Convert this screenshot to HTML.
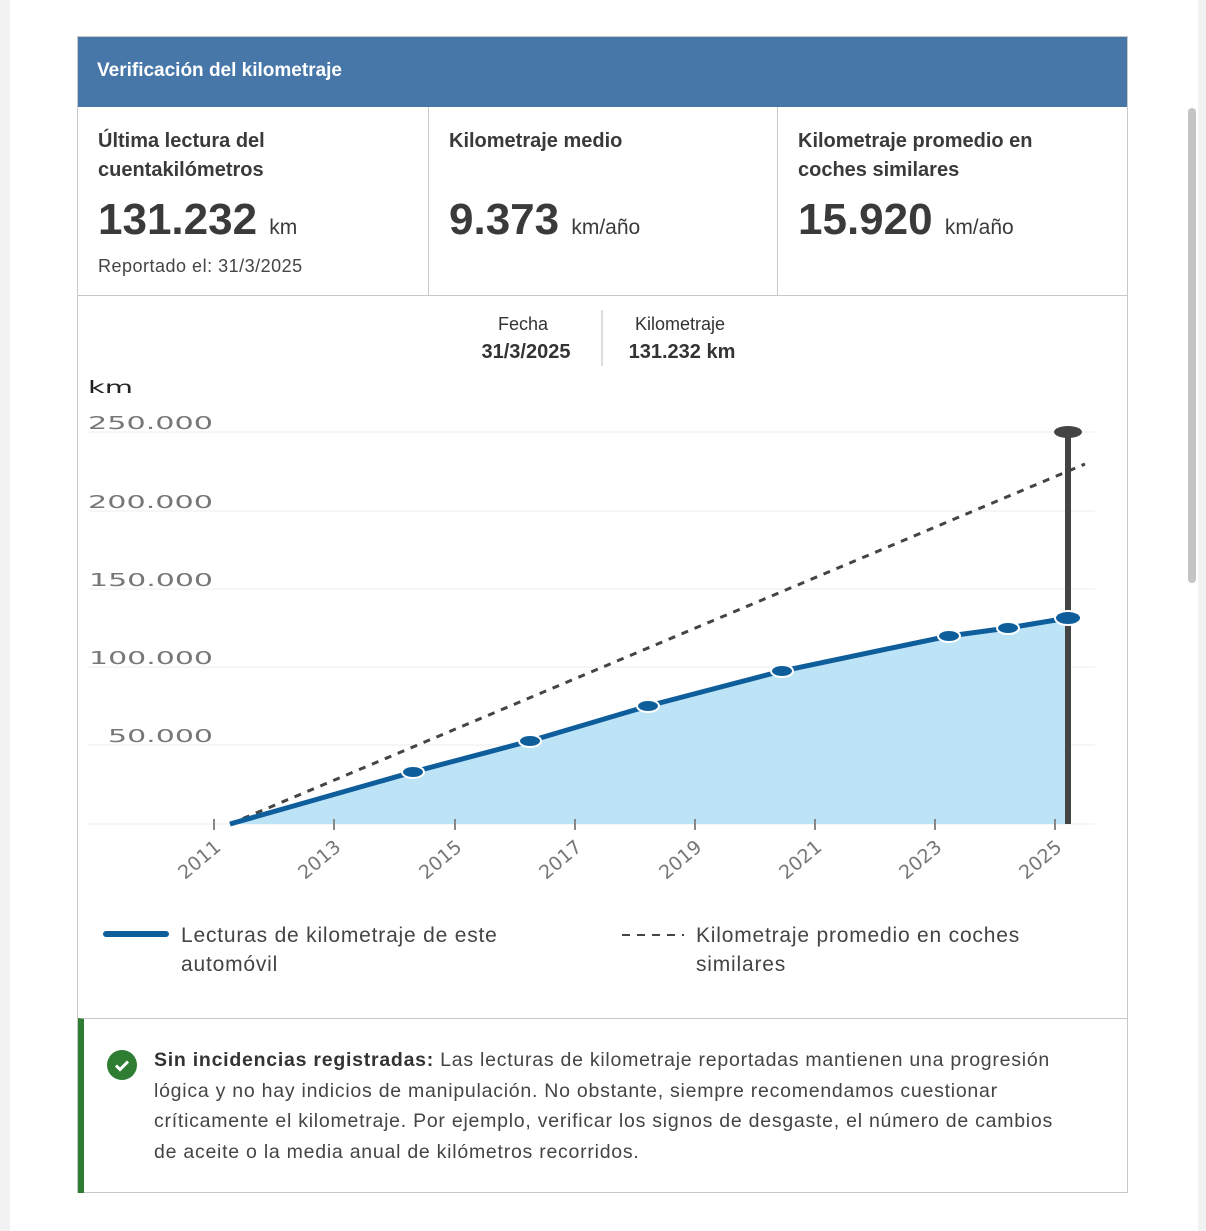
<!DOCTYPE html>
<html><head><meta charset="utf-8"><style>
*{margin:0;padding:0;box-sizing:border-box}
body{width:1206px;height:1231px;background:#f2f2f2;font-family:"Liberation Sans",sans-serif;position:relative;overflow:hidden;color:#333}
.page{position:absolute;left:10px;top:0;width:1188px;height:1231px;background:#fff}
.card{position:absolute;left:77px;top:36px;width:1051px;height:1157px;border:1px solid #c8c8c8;background:#fff}
.hdr{position:absolute;left:0;top:0;width:100%;height:70px;background:#4677a8;color:#fff;font-weight:bold;font-size:19px;padding:23px 0 0 19px}
.stat{position:absolute;top:70px;height:189px;border-bottom:1px solid #c8c8c8;padding:20px 20px}
.stat h3{font-size:20px;font-weight:bold;color:#3a3a3a;line-height:29px;height:58px}
.big{font-size:44px;font-weight:bold;color:#3a3a3a;margin-top:5px;line-height:60px}
.big span{font-size:21px;font-weight:normal}
.sm{font-size:18px;color:#444;letter-spacing:0.5px;margin-top:-2px}
.alert{position:absolute;left:0;top:981px;width:100%;height:175px;border-top:1px solid #c8c8c8;border-left:6px solid #2e7d32;padding:26px 55px 0 70px;font-size:19.5px;line-height:30.5px;color:#444;letter-spacing:0.75px}
.chk{position:absolute;left:23px;top:31px;width:30px;height:30px;border-radius:50%;background:#2e7d32}
</style></head><body>
<div class="page"></div>
<div style="position:absolute;left:1188px;top:108px;width:8px;height:475px;background:#c4c4c4;border-radius:4px"></div>
<div class="card">
 <div class="hdr">Verificación del kilometraje</div>
 <div class="stat" style="left:0;width:351px;border-right:1px solid #c8c8c8">
  <h3>Última lectura del<br>cuentakilómetros</h3>
  <div class="big">131.232 <span>km</span></div>
  <div class="sm">Reportado el: 31/3/2025</div>
 </div>
 <div class="stat" style="left:351px;width:349px;border-right:1px solid #c8c8c8">
  <h3>Kilometraje medio</h3>
  <div class="big">9.373 <span>km/año</span></div>
 </div>
 <div class="stat" style="left:700px;width:349px">
  <h3>Kilometraje promedio en<br>coches similares</h3>
  <div class="big">15.920 <span>km/año</span></div>
 </div>
 <div class="alert"><div class="chk"><svg width="30" height="30"><path d="M9 15.5l4 4 8-8" stroke="#fff" stroke-width="3" fill="none"/></svg></div><b style="color:#333">Sin incidencias registradas:</b> Las lecturas de kilometraje reportadas mantienen una progresión lógica y no hay indicios de manipulación. No obstante, siempre recomendamos cuestionar críticamente el kilometraje. Por ejemplo, verificar los signos de desgaste, el número de cambios de aceite o la media anual de kilómetros recorridos.</div>
</div>
<svg style="position:absolute;left:0;top:0" width="1206" height="1017">
 <g font-family="Liberation Sans" font-size="18" fill="#333" text-anchor="middle">
  <text x="523" y="330">Fecha</text><text x="526" y="358" font-weight="bold" font-size="20">31/3/2025</text>
  <text x="680" y="330">Kilometraje</text><text x="682" y="358" font-weight="bold" font-size="20">131.232 km</text>
 </g>
 <line x1="602" y1="310" x2="602" y2="366" stroke="#bbb"/>
 <text x="88" y="393" font-size="17" font-family="DejaVu Sans" fill="#222" textLength="45" lengthAdjust="spacingAndGlyphs">km</text>
 <g stroke="#eee" stroke-width="1">
  <line x1="88" y1="432" x2="1095" y2="432"/><line x1="88" y1="511" x2="1095" y2="511"/>
  <line x1="88" y1="589" x2="1095" y2="589"/><line x1="88" y1="667" x2="1095" y2="667"/>
  <line x1="88" y1="745" x2="1095" y2="745"/><line x1="88" y1="824" x2="1095" y2="824"/>
 </g>
 <g font-family="DejaVu Sans" font-size="18" fill="#777">
  <text x="88" y="429" textLength="125" lengthAdjust="spacingAndGlyphs">250.000</text><text x="88" y="508" textLength="125" lengthAdjust="spacingAndGlyphs">200.000</text><text x="89" y="586" textLength="124" lengthAdjust="spacingAndGlyphs">150.000</text>
  <text x="89" y="664" textLength="124" lengthAdjust="spacingAndGlyphs">100.000</text><text x="108" y="742" textLength="105" lengthAdjust="spacingAndGlyphs">50.000</text>
 </g>
 <path d="M230 824 L413 772 L530 741 L648 706 L782 671 L949 636 L1008 628 L1068 618 L1068 824 Z" fill="#bde3f7"/>
 <line x1="230" y1="824" x2="1085" y2="464" stroke="#444" stroke-width="3" stroke-dasharray="7,7"/>
 <g stroke="#888" stroke-width="2">
  <line x1="214" y1="819" x2="214" y2="830"/><line x1="334" y1="819" x2="334" y2="830"/><line x1="455" y1="819" x2="455" y2="830"/><line x1="575" y1="819" x2="575" y2="830"/><line x1="695" y1="819" x2="695" y2="830"/><line x1="815" y1="819" x2="815" y2="830"/><line x1="935" y1="819" x2="935" y2="830"/><line x1="1055" y1="819" x2="1055" y2="830"/>
 </g>
 <rect x="1065" y="432" width="6" height="392" fill="#444"/>
 <ellipse cx="1068" cy="432" rx="14" ry="6" fill="#444"/>
 <polyline points="230,824 413,772 530,741 648,706 782,671 949,636 1008,628 1068,618" fill="none" stroke="#0f5e9c" stroke-width="5"/>
 <g fill="#0f5e9c" stroke="#fff" stroke-width="2">
  <ellipse cx="413" cy="772" rx="11" ry="6"/><ellipse cx="530" cy="741" rx="11" ry="6"/><ellipse cx="648" cy="706" rx="11" ry="6"/><ellipse cx="782" cy="671" rx="11" ry="6"/><ellipse cx="949" cy="636" rx="11" ry="6"/><ellipse cx="1008" cy="628" rx="11" ry="6"/><ellipse cx="1068" cy="618" rx="13" ry="7"/>
 </g>
 <g font-family="DejaVu Sans" font-size="19" fill="#777" text-anchor="end">
  <text transform="translate(222,849) rotate(-40)">2011</text><text transform="translate(342,849) rotate(-40)">2013</text><text transform="translate(463,849) rotate(-40)">2015</text><text transform="translate(583,849) rotate(-40)">2017</text><text transform="translate(703,849) rotate(-40)">2019</text><text transform="translate(823,849) rotate(-40)">2021</text><text transform="translate(943,849) rotate(-40)">2023</text><text transform="translate(1063,849) rotate(-40)">2025</text>
 </g>
 <line x1="106" y1="934" x2="166" y2="934" stroke="#0f5e9c" stroke-width="6" stroke-linecap="round"/>
 <line x1="622" y1="935" x2="684" y2="935" stroke="#444" stroke-width="2" stroke-dasharray="8,7"/>
 <g font-family="Liberation Sans" font-size="21" fill="#444" letter-spacing="0.8">
  <text x="181" y="942">Lecturas de kilometraje de este</text><text x="181" y="971">automóvil</text>
  <text x="696" y="942">Kilometraje promedio en coches</text><text x="696" y="971">similares</text>
 </g>
</svg>
</body></html>
